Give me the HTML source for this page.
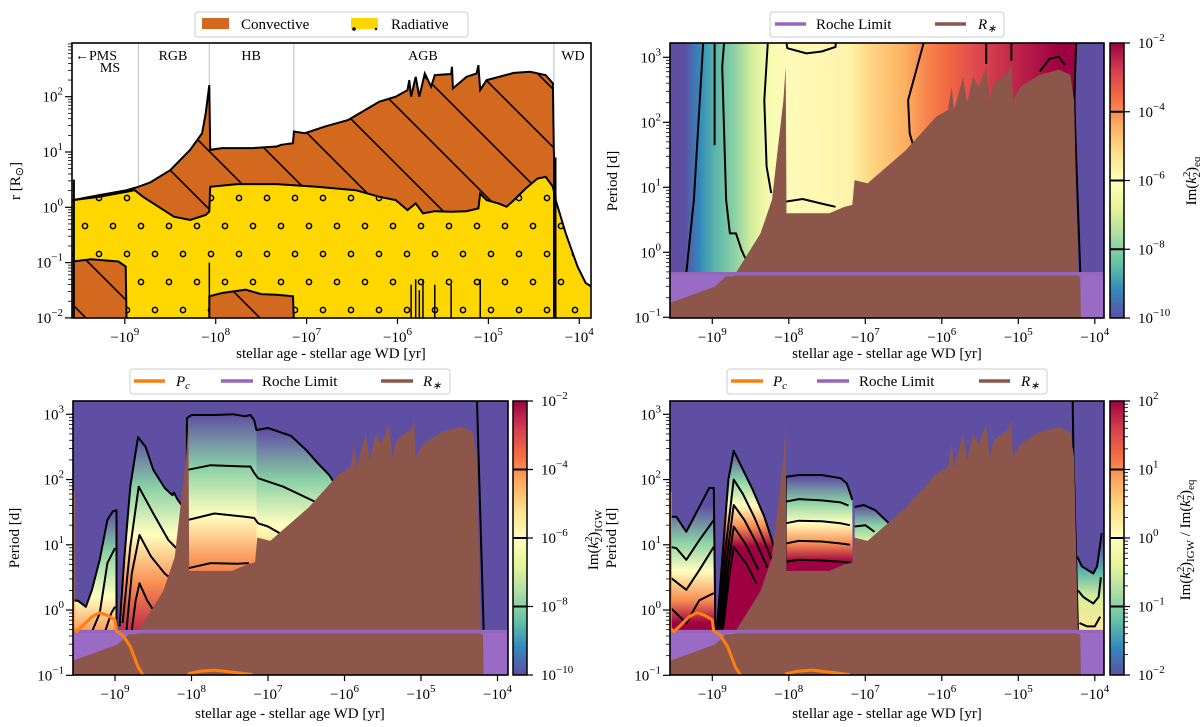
<!DOCTYPE html>
<html><head><meta charset="utf-8"><style>
html,body{margin:0;padding:0;background:#fff;}
svg{display:block;font-family:"Liberation Serif",serif;}
</style></head><body>
<svg id="fig" width="1200" height="727" viewBox="0 0 1200 727" xmlns="http://www.w3.org/2000/svg">
<defs id="defs">
<clipPath id="clipTL"><rect x="72" y="43" width="519" height="275"/></clipPath>
<clipPath id="clipTR"><rect x="670" y="43" width="434" height="275"/></clipPath>
<clipPath id="clipBL"><rect x="73" y="401" width="435" height="274"/></clipPath>
<clipPath id="clipBR"><rect x="670" y="401" width="434" height="274"/></clipPath>
<pattern id="hatch" patternUnits="userSpaceOnUse" width="58" height="58">
<path d="M-6,-6 L64,64 M-64,-6 L6,64 M52,-6 L122,64" stroke="#000" stroke-width="1.6" fill="none"/>
</pattern>
<pattern id="dots" patternUnits="userSpaceOnUse" width="28" height="56" patternTransform="translate(1,30)">
<circle cx="14" cy="0" r="2.6" fill="none" stroke="#000" stroke-width="1.5"/>
<circle cx="14" cy="56" r="2.6" fill="none" stroke="#000" stroke-width="1.5"/>
<circle cx="0" cy="28" r="2.6" fill="none" stroke="#000" stroke-width="1.5"/>
<circle cx="28" cy="28" r="2.6" fill="none" stroke="#000" stroke-width="1.5"/>
</pattern>
</defs>
<g id="gTL"></g>
<g id="gTR"></g>
<g id="gBL"></g>
<g id="gBR"></g>

<!-- legends -->
<g font-size="15">
<rect x="195" y="12" width="273" height="25" rx="3" fill="#fff" stroke="#ccc"/>
<rect x="202" y="18" width="27" height="11" fill="#d2691e"/>
<text x="241" y="29">Convective</text>
<rect x="351" y="18" width="27" height="11" fill="#ffd700"/>
<circle cx="354" cy="29" r="1.8" fill="#000"/><circle cx="376" cy="29" r="1.2" fill="#000"/>
<text x="391" y="29">Radiative</text>
</g>
<g font-size="15">
<rect x="770" y="12" width="234" height="25" rx="3" fill="#fff" stroke="#ccc"/>
<line x1="775" y1="24" x2="806" y2="24" stroke="#9467bd" stroke-width="3.5"/>
<text x="816" y="29">Roche Limit</text>
<line x1="935" y1="24" x2="966" y2="24" stroke="#8c564b" stroke-width="3.5"/>
<text x="978" y="29" font-style="italic">R<tspan font-size="11" dy="3">∗</tspan></text>
</g>
<g font-size="15">
<rect x="130" y="369" width="320" height="25" rx="3" fill="#fff" stroke="#ccc"/>
<line x1="134" y1="381" x2="165" y2="381" stroke="#ff7f0e" stroke-width="3.5"/>
<text x="176" y="386" font-style="italic">P<tspan font-size="11" dy="3">c</tspan></text>
<line x1="221" y1="381" x2="253" y2="381" stroke="#9467bd" stroke-width="3.5"/>
<text x="262" y="386">Roche Limit</text>
<line x1="381" y1="381" x2="413" y2="381" stroke="#8c564b" stroke-width="3.5"/>
<text x="423" y="386" font-style="italic">R<tspan font-size="11" dy="3">∗</tspan></text>
</g>
<g font-size="15">
<rect x="727" y="369" width="320" height="25" rx="3" fill="#fff" stroke="#ccc"/>
<line x1="731" y1="381" x2="763" y2="381" stroke="#ff7f0e" stroke-width="3.5"/>
<text x="773" y="386" font-style="italic">P<tspan font-size="11" dy="3">c</tspan></text>
<line x1="817" y1="381" x2="849" y2="381" stroke="#9467bd" stroke-width="3.5"/>
<text x="859" y="386">Roche Limit</text>
<line x1="979" y1="381" x2="1010" y2="381" stroke="#8c564b" stroke-width="3.5"/>
<text x="1021" y="386" font-style="italic">R<tspan font-size="11" dy="3">∗</tspan></text>
</g>

<!-- axis titles -->
<g font-size="15" fill="#000">
<text x="331" y="358" text-anchor="middle">stellar age - stellar age WD [yr]</text>
<text x="887" y="358" text-anchor="middle">stellar age - stellar age WD [yr]</text>
<text x="290" y="718" text-anchor="middle">stellar age - stellar age WD [yr]</text>
<text x="887" y="718" text-anchor="middle">stellar age - stellar age WD [yr]</text>
<text transform="translate(20,181) rotate(-90)" text-anchor="middle">r [R<tspan font-size="11" dy="3">⊙</tspan><tspan dy="-3">]</tspan></text>
<text transform="translate(617,181) rotate(-90)" text-anchor="middle">Period [d]</text>
<text transform="translate(19,538) rotate(-90)" text-anchor="middle">Period [d]</text>
<text transform="translate(616,538) rotate(-90)" text-anchor="middle">Period [d]</text>
<text transform="translate(1196,181) rotate(-90)" text-anchor="middle">Im(<tspan font-style="italic">k</tspan><tspan font-size="11" dy="-6">2</tspan><tspan font-size="11" dx="-6" dy="10">2</tspan><tspan dy="-4">)</tspan><tspan font-size="11" dy="4">eq</tspan></text>
<text transform="translate(598,540) rotate(-90)" text-anchor="middle">Im(<tspan font-style="italic">k</tspan><tspan font-size="11" dy="-6">2</tspan><tspan font-size="11" dx="-6" dy="10">2</tspan><tspan dy="-4">)</tspan><tspan font-size="11" dy="4">IGW</tspan></text>
<text transform="translate(1190,540) rotate(-90)" text-anchor="middle">Im(<tspan font-style="italic">k</tspan><tspan font-size="11" dy="-6">2</tspan><tspan font-size="11" dx="-6" dy="10">2</tspan><tspan dy="-4">)</tspan><tspan font-size="11" dy="4">IGW</tspan><tspan dy="-4"> / Im(</tspan><tspan font-style="italic">k</tspan><tspan font-size="11" dy="-6">2</tspan><tspan font-size="11" dx="-6" dy="10">2</tspan><tspan dy="-4">)</tspan><tspan font-size="11" dy="4">eq</tspan></text>
</g>
</svg>
<script>
// ===== data (u = log10(-(age - age_WD)) , v = log10 value) =====
// top-left structure panel
const tlSurfU=[9.60,9.57,9.28,8.98,8.85,8.72,8.50,8.28,8.15,8.11,8.07,8.06,7.93,7.59,7.33,7.28,7.15,7.14,7.02,6.80,6.54,6.20,6.02,5.89,5.87,5.85,5.80,5.76,5.70,5.63,5.59,5.41,5.40,5.39,5.24,5.13,5.11,5.09,5.02,4.72,4.54,4.37,4.29,4.28,4.26,4.15,4.02,3.93,3.87,3.80];
const tlSurfR=[0.13,0.13,0.22,0.31,0.37,0.45,0.67,1.04,1.34,1.70,2.21,1.04,1.07,1.07,1.10,1.13,1.16,1.37,1.34,1.46,1.58,1.91,2.00,2.12,2.30,2.00,2.36,2.00,2.42,2.18,2.39,2.41,2.54,2.15,2.36,2.42,2.57,2.12,2.30,2.43,2.45,2.39,2.24,1.04,0.13,-0.47,-1.07,-1.37,-1.43,-1.45];
const tlEnvU=[9.60,9.57,9.28,8.98,8.89,8.80,8.63,8.46,8.28,8.11,8.07,8.06,7.76,7.33,6.89,6.46,6.20,6.02,5.89,5.80,5.72,5.59,5.41,5.24,5.11,5.09,5.02,4.89,4.80,4.72,4.59,4.46,4.37,4.29,4.26];
const tlEnvR=[0.13,0.13,0.19,0.28,0.31,0.19,0.01,-0.17,-0.23,-0.14,-0.08,0.37,0.42,0.42,0.37,0.31,0.19,0.13,-0.05,0.07,-0.11,-0.07,-0.08,-0.07,-0.02,0.25,0.13,0.07,0.01,0.13,0.34,0.52,0.55,0.37,0.13];
const tlCoreMsU=[9.60,9.60,9.57,9.37,9.07,8.99,8.98];
const tlCoreMsR=[-2.1,-0.98,-0.98,-0.94,-0.98,-1.07,-2.1];
const tlCoreHbU=[8.07,8.07,7.93,7.67,7.50,7.33,7.15,7.14];
const tlCoreHbR=[-2.1,-1.61,-1.55,-1.49,-1.57,-1.58,-1.61,-2.1];
const phaseU=[8.85,8.07,7.14,4.28];
const phaseTop=[0.37,2.21,1.37,2.24];
const phaseNames=['RGB','HB','AGB','WD'];
const phaseLabelU=[8.47,7.61,5.72,4.07];
const spikeU=[8.07,5.85,5.80,5.76,5.72,5.59,5.41,5.09];
const spikeTop=[-1.0,-1.4,-1.3,-1.5,-1.3,-1.4,-1.4,-1.3];

// stellar radius silhouette & Roche limit (period panels)
const rStarU=[9.60,9.56,8.97,8.82,8.72,8.37,8.22,8.12,8.07,8.04,8.03,7.47,7.27,7.17,7.14,6.97,6.47,6.07,5.92,5.87,5.84,5.72,5.67,5.59,5.52,5.42,5.37,5.32,5.12,5.09,5.07,4.97,4.72,4.47,4.32,4.27,4.22,4.19,4.18];
const rStarP=[-0.78,-0.78,-0.53,-0.37,-0.37,0.29,0.81,1.83,2.34,2.86,0.60,0.60,0.70,0.73,1.11,1.06,1.57,2.09,2.19,2.55,2.19,2.70,2.30,2.70,2.55,2.83,2.34,2.60,2.78,2.93,2.34,2.55,2.73,2.81,2.73,2.34,-0.37,-0.37,-1.1];
const rocheP=-0.33;
const pcU1=[9.55,9.55,9.50,9.43,9.30,9.20,9.10,9.00,8.98,8.90,8.80,8.70,8.63,8.60];
const pcP1=[1.81,-0.28,-0.33,-0.25,-0.10,-0.04,-0.08,-0.15,-0.33,-0.38,-0.56,-0.87,-1.00,-1.07];
const pcU2=[8.05,7.90,7.70,7.40,7.20];
const pcP2=[-0.98,-0.94,-0.92,-0.96,-0.99];

// top-right: Im(k2)eq along age
const trGradU=[9.60,9.36,9.34,9.17,8.97,8.72,8.47,8.27,8.05,7.20,6.97,6.47,6.20,5.97,5.47,4.97,4.47,4.25,4.24,3.80];
const trGradV=[-10,-10,-9.9,-9.2,-8.6,-8.0,-7.0,-6.3,-5.9,-5.7,-5.1,-4.4,-3.9,-3.6,-2.9,-2.4,-2.0,-2.0,-10,-10];
const trContU=[[9.34,9.24,9.12,9.10],[8.97,8.97],[8.84,8.87,8.82,8.77,8.69,8.62,8.57],[8.27,8.32,8.29,8.23],[8.04,8.02,7.77,7.57,7.39,7.38],[8.04,7.82,7.57,7.39],[6.22,6.32,6.44,6.42,6.37],[5.42,5.42],[5.09,5.09],[4.72,4.59,4.47,4.39],[4.24,4.27,4.19]];
const trContP=[[-0.32,0.81,3.2,3.3],[1.65,3.3],[3.3,2.86,0.81,0.29,0.29,0.04,-0.09],[3.3,2.34,1.32,0.91],[3.3,3.14,3.06,3.09,3.16,3.3],[0.78,0.82,0.75,0.70],[3.3,2.86,2.34,1.83,1.63],[3.3,2.9],[3.3,2.95],[2.78,2.98,3.01,2.88],[3.3,2.34,-0.32]];

// bottom-left: Im(k2)IGW regions
const blRegU=[[9.60,9.55,9.48,9.38,9.30,9.20,9.10,9.03,8.98,8.98,9.60],[8.96,8.94,8.88,8.80,8.70,8.60,8.50,8.35,8.25,8.23,8.18,8.11,8.08,8.08],[8.06,8.06,8.00,7.70,7.45,7.30,7.23,7.18,7.15,7.15],[7.15,7.15,7.00,6.70,6.50,6.35,6.20,6.13,6.10,6.10]];
const blRegP=[[0.15,0.15,0.14,0.05,0.31,0.77,1.38,1.51,1.53,-0.4,-0.4],[-0.4,-0.25,0.77,1.89,2.65,2.50,2.15,1.87,1.76,1.80,1.69,1.58,1.0,-0.4],[-0.4,2.94,2.99,2.99,3.0,2.97,2.99,2.91,2.76,-0.4],[-0.4,2.76,2.79,2.67,2.45,2.25,2.07,1.94,1.5,-0.4]];
const blGradP=[[1.53,0.90,0.20,-0.40],[2.65,1.89,1.15,0.41,-0.40],[3.0,2.2,1.45,0.7,0.2],[2.76,2.0,1.3,0.9]];
const blGradV=[[-10,-8,-6,-4],[-10,-8,-6,-4,-2.4],[-10,-8,-6,-4,-3.2],[-10,-8,-6,-5]];
const blContU=[[9.55,9.48,9.38,9.30,9.20,9.10,9.03,8.98,8.98],[9.30,9.20,9.10,9.00],[9.13,9.05,9.00],[8.94,8.88,8.80,8.70,8.60,8.50,8.35,8.25,8.23,8.18,8.11],[8.90,8.80,8.69,8.50,8.30,8.175],[8.85,8.78,8.68,8.53,8.35,8.25],[8.78,8.73,8.68,8.58,8.50],[8.06,8.06,8.00,7.70,7.45,7.30,7.23,7.18,7.15,7.00,6.70,6.50,6.35,6.20,6.13],[8.05,7.75,7.30,7.23,7.18,7.13,6.80,6.35],[8.05,7.70,7.30,7.18,7.13,7.00,6.85],[8.05,7.75,7.40,7.25],[4.27,4.18]];
const blContP=[[0.15,0.14,0.05,0.31,0.77,1.38,1.51,1.53,-0.33],[-0.33,-0.05,0.72,0.95],[-0.33,-0.05,0.05],[-0.25,0.77,1.89,2.65,2.50,2.15,1.87,1.76,1.80,1.69,1.58],[-0.2,0.97,1.89,1.48,1.07,0.92],[-0.31,0.56,1.15,0.82,0.56,0.46],[-0.31,0.15,0.41,0.15,0.0],[0.6,2.94,2.99,2.99,3.0,2.97,2.99,2.91,2.76,2.79,2.67,2.45,2.25,2.07,1.94],[2.15,2.22,2.20,2.20,2.10,2.02,1.89,1.64],[1.38,1.48,1.43,1.41,1.33,1.28,1.18],[0.64,0.72,0.71,0.72],[3.3,-0.33]];

// bottom-right: ratio regions
const brRegU=[[9.60,9.56,9.47,9.34,9.17,9.04,8.98,8.96],[8.95,8.94,8.87,8.79,8.72,8.62,8.47,8.32,8.22,8.18,8.10,8.10],[8.04,8.04,7.87,7.57,7.32,7.24,7.17,7.16],[7.14,7.14,7.02,6.87,6.69,6.60,6.60],[4.24,4.23,4.17,4.02,3.97,3.91,3.80,3.80]];
const brRegP=[[-0.4,1.43,1.43,1.20,1.58,1.87,1.87,-0.4],[-0.4,-0.31,0.77,2.0,2.44,2.20,1.84,1.43,1.07,0.87,0.5,-0.4],[-0.4,2.04,2.07,2.07,2.02,1.94,1.69,-0.4],[-0.4,1.58,1.61,1.53,1.33,0.5,-0.4],[-0.4,0.82,0.67,0.56,0.67,1.18,1.2,-0.4]];
const brGradP=[[1.6,1.05,0.6,0.15,-0.2],[2.44,2.0,1.61,1.28,0.97],[2.04,1.66,1.33,1.02,0.74],[1.6,1.3,1.0],[1.0,0.6,0.2,-0.3]];
const brGradV=[[-2,-1,0,1,2],[-2,-1,0,1,2],[-2,-1,0,1,2],[-2,-1,-0.3],[-2,-1.3,-0.5,0.3]];
const brContU=[[9.56,9.47,9.34,9.17,9.04,8.98,8.96],[9.56,9.47,9.34,9.17,8.98],[9.56,9.34,9.17,8.98],[9.56,9.34,9.17,8.98],[8.94,8.87,8.79,8.72,8.62,8.47,8.32,8.22,8.18],[8.92,8.84,8.72,8.60,8.45,8.30,8.20],[8.90,8.82,8.72,8.58,8.42,8.28],[8.88,8.80,8.72,8.56,8.40],[8.86,8.78,8.72,8.55,8.42],[8.04,8.04,7.87,7.57,7.32,7.24,7.17],[8.04,7.87,7.57,7.32,7.22],[8.04,7.87,7.57,7.32,7.20],[8.04,7.87,7.57,7.32,7.20],[8.04,7.87,7.57,7.32,7.18],[7.14,7.14,7.02,6.87,6.69],[7.14,7.00,6.88],[4.23,4.17,4.02,3.97,3.91],[4.22,4.15,4.02,3.95,3.92],[4.20,4.10,4.00,3.93],[4.29,4.28,4.22]];
const brContP=[[1.43,1.43,1.20,1.58,1.87,1.87,-0.33],[0.97,0.95,0.77,1.07,1.38],[0.51,0.31,0.61,0.97],[0.05,-0.2,0.15,0.26],[-0.31,0.77,2.0,2.44,2.20,1.84,1.43,1.07,0.87],[-0.3,0.8,2.0,1.78,1.42,1.0,0.7],[-0.3,0.7,1.61,1.38,1.02,0.65],[-0.3,0.6,1.28,1.0,0.62],[-0.3,0.5,0.97,0.7,0.4],[0.6,2.04,2.07,2.07,2.02,1.94,1.69],[1.66,1.70,1.68,1.65,1.6],[1.33,1.37,1.36,1.33,1.3],[1.02,1.06,1.05,1.02,1.0],[0.74,0.77,0.76,0.74,0.72],[1.58,1.58,1.61,1.53,1.33],[1.28,1.30,1.20],[0.82,0.67,0.56,0.67,1.18],[0.3,0.2,0.1,0.2,0.5],[-0.2,-0.25,-0.25,-0.1],[3.3,2.4,-0.33]];

// ticks
const xTickU=[9,8,7,6,5,4];
const tlYTicks=[2,1,0,-1,-2];
const pYTicks=[3,2,1,0,-1];
const cbEqTicks=[-2,-4,-6,-8,-10];
const cbRatioTicks=[2,1,0,-1,-2];

// ===== rendering =====
const NS='http://www.w3.org/2000/svg';
const SPEC=['#5e4fa2','#3288bd','#66c2a5','#abdda4','#e6f598','#ffffbf','#fee08b','#fdae61','#f46d43','#d53e4f','#9e0142'];
function hx(c){return [parseInt(c.substr(1,2),16),parseInt(c.substr(3,2),16),parseInt(c.substr(5,2),16)];}
function cmap(t){t=Math.max(0,Math.min(1,t));const s=t*10,i=Math.min(9,Math.floor(s)),f=s-i;const a=hx(SPEC[i]),b=hx(SPEC[i+1]);return 'rgb('+a.map((x,k)=>Math.round(x+(b[k]-x)*f)).join(',')+')';}
function mk(tag,attrs,parent){const e=document.createElementNS(NS,tag);for(const k in attrs)e.setAttribute(k,attrs[k]);if(parent)parent.appendChild(e);return e;}
const defs=document.getElementById('defs');

const TL={g:document.getElementById('gTL'),x0:72,x1:591,y0:43,y1:318,clip:'clipTL',X:u=>579.3-90.9*(u-4),Y:v=>96.7+55.3*(2-v)};
const TR={g:document.getElementById('gTR'),x0:670,x1:1104,y0:43,y1:318,clip:'clipTR',X:u=>1094.8-76.5*(u-4),Y:v=>57.3+65*(3-v)};
const BL={g:document.getElementById('gBL'),x0:73,x1:508,y0:401,y1:675,clip:'clipBL',X:u=>497.5-76.5*(u-4),Y:v=>414.3+65.25*(3-v)};
const BR={g:document.getElementById('gBR'),x0:670,x1:1104,y0:401,y1:675,clip:'clipBR',X:u=>1094.8-76.5*(u-4),Y:v=>414.3+65.25*(3-v)};

function ptStr(P,us,vs){return us.map((u,i)=>P.X(u).toFixed(1)+','+P.Y(vs[i]).toFixed(1)).join(' ');}
function vGrad(id,P,ps,vs,vmin,vmax){
  const y1=P.Y(ps[0]),y2=P.Y(ps[ps.length-1]);
  const g=mk('linearGradient',{id:id,gradientUnits:'userSpaceOnUse',x1:0,x2:0,y1:y1,y2:y2},defs);
  ps.forEach((p,i)=>{mk('stop',{offset:((P.Y(p)-y1)/(y2-y1)).toFixed(4),'stop-color':cmap((vs[i]-vmin)/(vmax-vmin))},g);});
}
function clipGroup(P,name){const g=mk('g',{'clip-path':'url(#'+P.clip+')'},P.g);return g;}

function axes(P,yt,name){
  const g=mk('g',{},P.g);
  
  
  xTickU.forEach(u=>{
    const x=P.X(u);
    const t=mk('line',{x1:x,x2:x,y1:P.y1,y2:P.y1+6,stroke:'#000','stroke-width':1.2},g);
    
    
    const tx=mk('text',{x:x,y:P.y1+24,'text-anchor':'middle','font-size':15},g);
    
    
    tx.innerHTML='−10<tspan font-size="11" dy="-7">'+u+'</tspan>';
  });
  yt.forEach((v,i)=>{
    const y=P.Y(v);
    const t=mk('line',{x1:P.x0-7,x2:P.x0,y1:y,y2:y,stroke:'#000','stroke-width':1.2},g);
    
    
    const tx=mk('text',{x:P.x0-9,y:y+5,'text-anchor':'end','font-size':15},g);
    
    
    tx.innerHTML='10<tspan font-size="11" dy="-7">'+(v<0?'−'+(-v):v)+'</tspan>';
    for(let m=2;m<10;m++){
      const yy=P.Y(v-1+Math.log10(m));
      if(yy>=P.y0&&yy<=P.y1){
        const mt=mk('line',{x1:P.x0-4,x2:P.x0,y1:yy,y2:yy,stroke:'#000','stroke-width':0.8},g);
        
        
      }
    }
  });
  for(let m=2;m<10;m++){const yy=P.Y(yt[0]+Math.log10(m));if(yy>=P.y0){const mt=mk('line',{x1:P.x0-4,x2:P.x0,y1:yy,y2:yy,stroke:'#000','stroke-width':0.8},g);}}
  const fr=mk('rect',{x:P.x0,y:P.y0,width:P.x1-P.x0,height:P.y1-P.y0,fill:'none',stroke:'#000','stroke-width':1.6},g);
  
  
}

// ---- Top-left structure ----
(function(){
  const P=TL,g=clipGroup(P,'structure-plot-area');
  const xL=9.7,xR=3.7;
  const convU=tlSurfU.filter(u=>u>=4.26).concat(tlEnvU.slice().reverse());
  const convR=tlSurfR.filter((r,i)=>tlSurfU[i]>=4.26).concat(tlEnvR.slice().reverse());
  let e=mk('polygon',{points:ptStr(P,convU,convR),fill:'#d2691e'},g);
  
  
  e=mk('polygon',{points:ptStr(P,convU,convR),fill:'url(#hatch)'},g);
  
  
  const wdU=tlSurfU.filter(u=>u<4.26),wdR=tlSurfR.filter((r,i)=>tlSurfU[i]<4.26);
  const radU=tlEnvU.concat(wdU,[xR,xL]),radR=tlEnvR.concat(wdR,[-2.2,-2.2]);
  e=mk('polygon',{points:ptStr(P,radU,radR),fill:'#ffd700'},g);
  
  
  e=mk('polygon',{points:ptStr(P,radU,radR),fill:'url(#dots)'},g);
  
  
  [[tlCoreMsU,tlCoreMsR,'ms-convective-core'],[tlCoreHbU,tlCoreHbR,'hb-convective-core']].forEach(c=>{
    let p=mk('polygon',{points:ptStr(P,c[0],c[1]),fill:'#d2691e'},g);
    
    
    p=mk('polygon',{points:ptStr(P,c[0],c[1]),fill:'url(#hatch)'},g);
    
    
    p=mk('polyline',{points:ptStr(P,c[0],c[1]),fill:'none',stroke:'#000','stroke-width':2},g);
    
    
  });
  phaseU.forEach((u,i)=>{
    const l=mk('line',{x1:P.X(u),x2:P.X(u),y1:P.y0,y2:P.Y(phaseTop[i]),stroke:'#c8c8c8','stroke-width':1.2},g);
    
    
  });
  spikeU.forEach((u,i)=>{
    const l=mk('line',{x1:P.X(u),x2:P.X(u),y1:P.Y(-2.1),y2:P.Y(spikeTop[i]),stroke:'#000','stroke-width':1.5},g);
    
    
  });
  let l=mk('line',{x1:P.X(4.27),x2:P.X(4.27),y1:P.Y(-2.1),y2:P.Y(0.9),stroke:'#000','stroke-width':3.5},g);
  
  
  l=mk('line',{x1:P.X(9.56),x2:P.X(9.56),y1:P.Y(0.5),y2:P.Y(-2.1),stroke:'#000','stroke-width':2},g);
  
  
  e=mk('polyline',{points:ptStr(P,tlSurfU,tlSurfR),fill:'none',stroke:'#000','stroke-width':2},g);
  
  
  e=mk('polyline',{points:ptStr(P,tlEnvU,tlEnvR),fill:'none',stroke:'#000','stroke-width':2},g);
  
  
  phaseNames.forEach((n,i)=>{
    const t=mk('text',{x:P.X(phaseLabelU[i]),y:60,'text-anchor':'middle','font-size':14},P.g);
    
    
    t.textContent=n;
  });
  let t=mk('text',{x:75,y:60,'font-size':14},P.g);
  
  
  t.textContent='←PMS';
  t=mk('text',{x:110,y:72,'text-anchor':'middle','font-size':14},P.g);
  
  
  t.textContent='MS';
  axes(P,tlYTicks,'structure-axes');
})();

function starAndRoche(P,g){
  let e=mk('rect',{x:P.x0,y:P.Y(rocheP),width:P.x1-P.x0,height:P.y1-P.Y(rocheP),fill:'#9a6bc4'},g);
  
  
  e=mk('polygon',{points:ptStr(P,rStarU.concat([4.18,9.6]),rStarP.concat([-1.2,-1.2])),fill:'#8c564b'},g);
  
  
  e=mk('line',{x1:P.x0,x2:P.x1,y1:P.Y(rocheP),y2:P.Y(rocheP),stroke:'#9467bd','stroke-width':3.5},g);
  
  
}
function contours(P,g,us,ps,name){
  us.forEach((u,i)=>{
    const c=mk('polyline',{points:ptStr(P,u,ps[i]),fill:'none',stroke:'#000','stroke-width':2,'stroke-linejoin':'round'},g);
    
    
  });
}
function regions(P,g,us,ps,gp,gv,vmin,vmax,prefix){
  us.forEach((u,i)=>{
    vGrad(prefix+i,P,gp[i],gv[i],vmin,vmax);
    const r=mk('polygon',{points:ptStr(P,u,ps[i]),fill:'url(#'+prefix+i+')'},g);
    
    
  });
}
function pcLines(P,g){
  [[pcU1,pcP1],[pcU2,pcP2]].forEach(d=>{
    const l=mk('polyline',{points:ptStr(P,d[0],d[1]),fill:'none',stroke:'#ff7f0e','stroke-width':3,'stroke-linejoin':'round'},g);
    
    
  });
}
function colorbar(x,y0,y1,ticks,vmin,vmax,name,minor){
  const g=mk('g',{},document.getElementById('fig'));
  
  
  const id=name+'-grad';
  const gr=mk('linearGradient',{id:id,x1:0,x2:0,y1:1,y2:0},defs);
  SPEC.forEach((c,i)=>mk('stop',{offset:i/10,'stop-color':c},gr));
  const r=mk('rect',{x:x,y:y0,width:14,height:y1-y0,fill:'url(#'+id+')',stroke:'#000','stroke-width':1.5},g);
  
  
  const Yc=v=>y1-(v-vmin)/(vmax-vmin)*(y1-y0);
  ticks.forEach(v=>{
    const y=Yc(v);
    if(v>vmin&&v<vmax){const c=mk('line',{x1:x,x2:x+14,y1:y,y2:y,stroke:'#000','stroke-width':2},g);}
    const t=mk('line',{x1:x+14,x2:x+20,y1:y,y2:y,stroke:'#000','stroke-width':1.2},g);
    
    
    const tx=mk('text',{x:x+28,y:y+5,'font-size':15},g);
    
    
    tx.innerHTML='10<tspan font-size="11" dy="-7">'+(v<0?'−'+(-v):v)+'</tspan>';
    if(minor&&v<vmax){for(let m=2;m<10;m++){const yy=Yc(v+Math.log10(m));const mt=mk('line',{x1:x+14,x2:x+18,y1:yy,y2:yy,stroke:'#000','stroke-width':0.8},g);}}
  });
}

// ---- Top-right ----
(function(){
  const P=TR,g=clipGroup(P,'eq-plot-area');
  const x1=P.X(trGradU[0]),x2=P.X(trGradU[trGradU.length-1]);
  const gr=mk('linearGradient',{id:'trGrad',gradientUnits:'userSpaceOnUse',x1:x1,x2:x2,y1:0,y2:0},defs);
  trGradU.forEach((u,i)=>mk('stop',{offset:((P.X(u)-x1)/(x2-x1)).toFixed(4),'stop-color':cmap((trGradV[i]+10)/8)},gr));
  const bg=mk('rect',{x:P.x0,y:P.y0,width:P.x1-P.x0,height:P.y1-P.y0,fill:'url(#trGrad)'},g);
  
  
  contours(P,g,trContU,trContP,'eq-contour');
  starAndRoche(P,g);
  axes(P,pYTicks,'eq-axes');
  colorbar(1110,43,318,cbEqTicks,-10,-2,'colorbar-eq',false);
})();

// ---- Bottom-left ----
(function(){
  const P=BL,g=clipGroup(P,'igw-plot-area');
  const bg=mk('rect',{x:P.x0,y:P.y0,width:P.x1-P.x0,height:P.y1-P.y0,fill:'#5e4fa2'},g);
  
  
  regions(P,g,blRegU,blRegP,blGradP,blGradV,-10,-2,'blg');
  contours(P,g,blContU,blContP,'igw-contour');
  starAndRoche(P,g);
  pcLines(P,g);
  axes(P,pYTicks,'igw-axes');
  colorbar(513,401,675,cbEqTicks,-10,-2,'colorbar-igw',false);
})();

// ---- Bottom-right ----
(function(){
  const P=BR,g=clipGroup(P,'ratio-plot-area');
  const bg=mk('rect',{x:P.x0,y:P.y0,width:P.x1-P.x0,height:P.y1-P.y0,fill:'#5e4fa2'},g);
  
  
  regions(P,g,brRegU,brRegP,brGradP,brGradV,-2,2,'brg');
  contours(P,g,brContU,brContP,'ratio-contour');
  starAndRoche(P,g);
  pcLines(P,g);
  axes(P,pYTicks,'ratio-axes');
  colorbar(1110,401,675,cbRatioTicks,-2,2,'colorbar-ratio',true);
})();
</script>
</body></html>
